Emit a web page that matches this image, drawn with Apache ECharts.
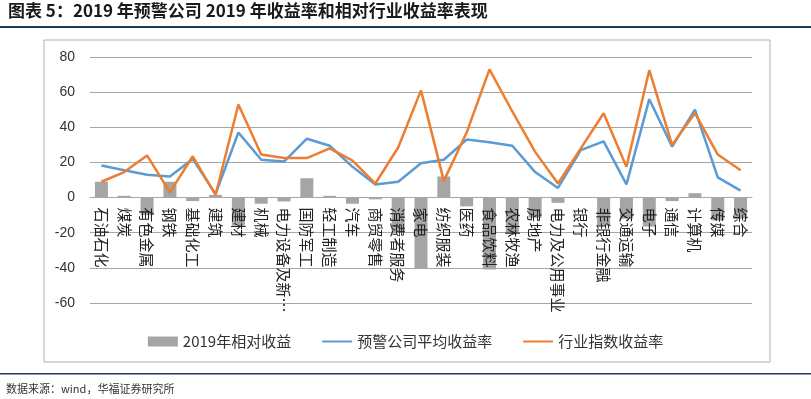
<!DOCTYPE html>
<html>
<head>
<meta charset="utf-8">
<script src="https://cdn.jsdelivr.net/npm/echarts@6/dist/echarts.min.js"></script>
<style>
html, body { margin: 0; padding: 0; background: #fff; }
#main { width: 811px; height: 399px; }
</style>
</head>
<body>
<div id="main"></div>
<script>
// 行业分类
var industries = ['石油石化', '煤炭', '有色金属', '钢铁', '基础化工', '建筑', '建材', '机械', '电力设备及新能源', '国防军工',
	'轻工制造', '汽车', '商贸零售', '消费者服务', '家电', '纺织服装', '医药', '食品饮料', '农林牧渔', '房地产',
	'电力及公用事业', '银行', '非银行金融', '交通运输', '电子', '通信', '计算机', '传媒', '综合'];
// 2019年相对收益
var relReturn = [9, 1, -10, 9, -2, 1.5, -16, -3.5, -2.2, 11,
	1, -3.5, -1, -20, -40.5, 12, -5, -41, -20, -11.5,
	-3, 0, -16, -12, -16.5, -2, 2.5, -13, -12];
// 预警公司平均收益率
var avgReturn = [18.3, 15.5, 13, 12, 22, 2, 37, 21.5, 20.5, 33.5,
	29.5, 17.5, 7.5, 9, 19.5, 21.5, 33, 31.5, 29.5, 14.5,
	5.5, 27, 32, 7.5, 56, 29, 50, 11.5, 4];
// 行业指数收益率
var indexReturn = [9, 14.5, 24, 3, 23.5, 1.5, 53, 24.5, 22.5, 22.5,
	28, 21, 8, 28.5, 61, 9.5, 37, 73, 49, 26,
	8, 28, 48, 17.5, 72.5, 30, 48, 24.5, 15.5];

var seriesNames = ['2019年相对收益', '预警公司平均收益率', '行业指数收益率'];

var myChart = echarts.init(document.getElementById('main'), null, {renderer: 'canvas'});

// 类目轴标签放在0刻度线下方
var gridTop = 57, gridHeight = 246;
var zeroOffset = gridHeight * 60 / 140;

var option = {
	backgroundColor: '#fff',
	animation: false,
	textStyle: {fontFamily: '"Noto Sans CJK SC", sans-serif'},
	graphic: [
		{type: 'text', left: 8, top: 2, style: {text: '图表 5：2019 年预警公司 2019 年收益率和相对行业收益率表现',
			font: 'bold 17px "Noto Sans CJK SC"', fill: '#1a1a1a'}},
		{type: 'rect', shape: {x: 0, y: 26, width: 811, height: 2}, style: {fill: '#1f3a5a'}},
		{type: 'rect', shape: {x: 44, y: 40, width: 726, height: 322}, style: {fill: 'none', stroke: '#b0b0b0', lineWidth: 1}},
		{type: 'rect', shape: {x: 0, y: 373, width: 811, height: 1.5}, style: {fill: '#1f3a5a'}},
		{type: 'text', left: 6, top: 383, style: {text: '数据来源：wind，华福证券研究所',
			font: '11px "Noto Sans CJK SC"', fill: '#333'}}
	],
	legend: {
		data: [
			{name: seriesNames[0], icon: 'rect'},
			{name: seriesNames[1], itemStyle: {opacity: 0}},
			{name: seriesNames[2], itemStyle: {opacity: 0}}
		],
		left: 'center',
		top: 329,
		itemWidth: 30,
		itemHeight: 10,
		itemGap: 30,
		textStyle: {fontSize: 15, color: '#333'}
	},
	grid: {left: 90, right: 59, top: gridTop, height: gridHeight},
	xAxis: {
		type: 'category',
		data: industries,
		z: 3,
		offset: -zeroOffset,
		axisLine: {show: true, onZero: false, lineStyle: {color: '#a6a6a6'}},
		axisTick: {show: false},
		axisLabel: {
			interval: 0,
			rotate: -90,
			margin: 10,
			fontSize: 15,
			color: '#222',
			width: 113,
			overflow: 'truncate',
			ellipsis: '…'
		}
	},
	yAxis: {
		type: 'value',
		min: -60,
		max: 80,
		interval: 20,
		axisLine: {show: false},
		axisTick: {show: false},
		splitLine: {lineStyle: {color: '#a6a6a6'}},
		axisLabel: {margin: 15, fontSize: 14, color: '#333', fontFamily: '"Liberation Sans", Arial'}
	},
	series: [
		{
			name: seriesNames[0],
			type: 'bar',
			data: relReturn,
			barWidth: 13,
			itemStyle: {color: '#a5a5a5'},
			z: 2
		},
		{
			name: seriesNames[1],
			type: 'line',
			data: avgReturn,
			symbol: 'none',
			lineStyle: {color: '#5b9bd5', width: 2.5},
			itemStyle: {color: '#5b9bd5'},
			z: 5
		},
		{
			name: seriesNames[2],
			type: 'line',
			data: indexReturn,
			symbol: 'none',
			lineStyle: {color: '#ed7d31', width: 2.5},
			itemStyle: {color: '#ed7d31'},
			z: 6
		}
	]
};

myChart.setOption(option);
</script>
</body>
</html>
